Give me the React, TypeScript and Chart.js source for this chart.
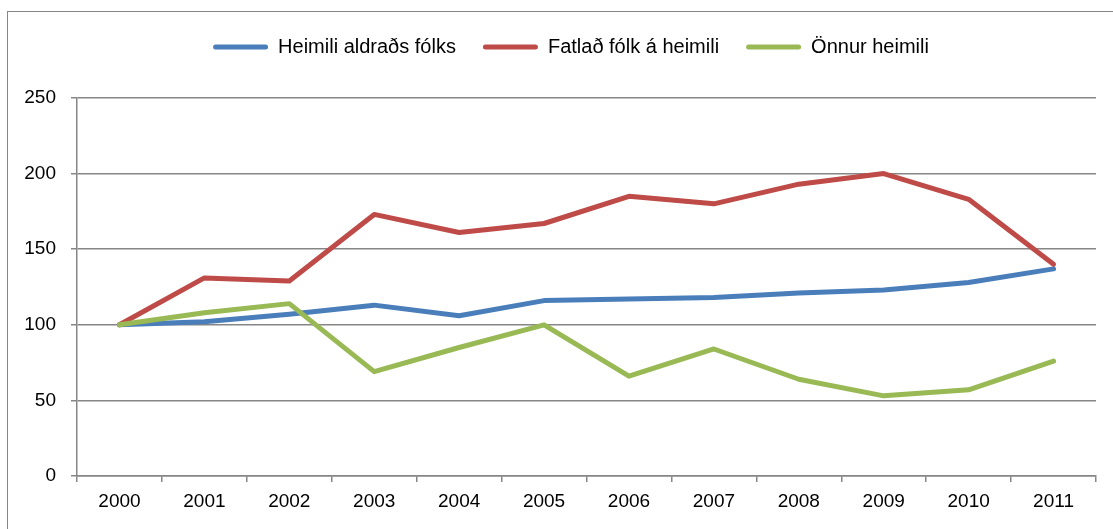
import React, { useEffect, useRef } from "react";
import { Chart, registerables } from "chart.js";

Chart.register(...registerables);

const years = ["2000", "2001", "2002", "2003", "2004", "2005", "2006", "2007", "2008", "2009", "2010", "2011"];
const aldradsFolks = [100, 102, 107, 113, 106, 116, 117, 118, 121, 123, 128, 137];
const fatladFolk = [100, 131, 129, 173, 161, 167, 185, 180, 193, 200, 183, 140];
const onnurHeimili = [100, 108, 114, 69, 85, 100, 66, 84, 64, 53, 57, 76];
const seriesNames = ["Heimili aldraðs fólks", "Fatlað fólk á heimili", "Önnur heimili"];
const seriesColors = ["#4A7EBB", "#BE4B48", "#98B954"];

const FONT = "'Liberation Sans', Arial, sans-serif";
const GRID = "#868686";
const LEGEND_EXTRA = 31;
const LEGEND_SHIFT = 23;

const legendSpacer = {
  id: "legendSpacer",
  beforeLayout(chart: any) {
    const legend = chart.legend;
    if (legend && !legend.__spaced) {
      const orig = legend.fit;
      legend.fit = function (this: any) {
        orig.call(this);
        this.height += LEGEND_EXTRA;
      };
      legend.__spaced = true;
    }
  },
  afterLayout(chart: any) {
    const legend = chart.legend;
    if (legend) {
      legend.left += LEGEND_SHIFT;
      legend.right += LEGEND_SHIFT;
    }
  },
};

export default function App() {
  const ref = useRef<HTMLCanvasElement>(null);

  useEffect(() => {
    if (!ref.current) return;
    const values = [aldradsFolks, fatladFolk, onnurHeimili];
    const chart = new Chart(ref.current, {
      type: "line",
      data: {
        labels: years,
        datasets: values.map((v, i) => ({
          label: seriesNames[i],
          data: v,
          borderColor: seriesColors[i],
          backgroundColor: seriesColors[i],
          borderWidth: 5,
          pointRadius: 0,
          tension: 0,
          borderCapStyle: "round" as const,
          borderJoinStyle: "round" as const,
          order: 3 - i,
        })),
      },
      plugins: [legendSpacer],
      options: {
        responsive: false,
        animation: false,
        layout: { padding: { left: 0, right: 17, top: 10, bottom: 0 } },
        plugins: {
          tooltip: { enabled: false },
          legend: {
            position: "top",
            labels: {
              boxWidth: 55,
              boxHeight: 5,
              padding: 27,
              color: "#000",
              font: { family: FONT, size: 20 },
              useBorderRadius: true,
              borderRadius: 2.5,
              sort: (a: any, b: any) => a.datasetIndex - b.datasetIndex,
              generateLabels: (chart: any) =>
                chart.data.datasets.map((ds: any, i: number) => ({
                  text: ds.label,
                  fillStyle: ds.borderColor,
                  strokeStyle: ds.borderColor,
                  lineWidth: 0,
                  borderRadius: 2.5,
                  datasetIndex: i,
                  hidden: false,
                })),
            },
          },
        },
        scales: {
          x: {
            type: "category",
            offset: true,
            afterFit: (s: any) => {
              s.height = 53;
            },
            grid: {
              offset: true,
              drawOnChartArea: false,
              drawTicks: true,
              tickLength: 6,
              color: GRID,
              lineWidth: 1.5,
            },
            border: { display: true, color: GRID, width: 1.5 },
            ticks: {
              color: "#000",
              padding: 8,
              font: { family: FONT, size: 19 },
              maxRotation: 0,
            },
          },
          y: {
            min: 0,
            max: 250,
            afterFit: (s: any) => {
              s.width = 77;
            },
            grid: {
              color: GRID,
              lineWidth: 1.5,
              tickLength: 6,
            },
            border: { display: true, color: GRID, width: 1.5 },
            ticks: {
              stepSize: 50,
              color: "#000",
              padding: 15,
              font: { family: FONT, size: 19 },
            },
          },
        },
      },
    });
    return () => chart.destroy();
  }, []);

  return (
    <div
      style={{
        position: "fixed",
        left: 0,
        top: 0,
        width: 1113,
        height: 529,
        overflow: "hidden",
        background: "#fff",
      }}
    >
      <div
        style={{
          position: "absolute",
          left: 7,
          top: 11,
          width: 1200,
          height: 700,
          border: "1.5px solid " + GRID,
        }}
      />
      <canvas
        ref={ref}
        width={1113}
        height={529}
        style={{ position: "absolute", left: 0, top: 0 }}
      />
    </div>
  );
}
